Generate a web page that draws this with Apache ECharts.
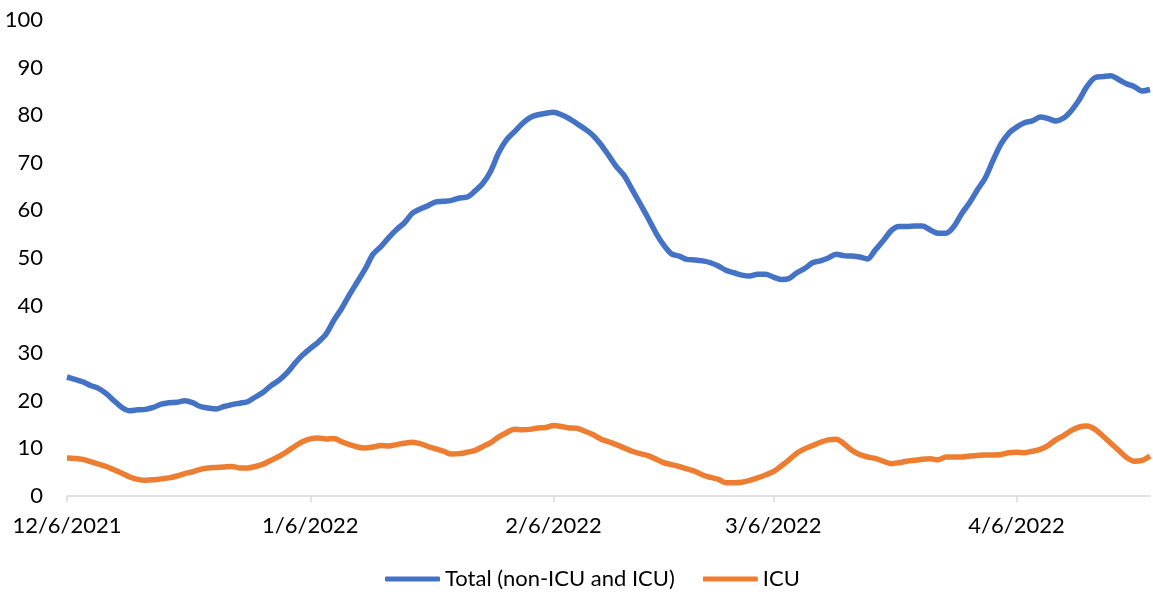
<!DOCTYPE html>
<html>
<head>
<meta charset="utf-8">
<title>Hospitalizations</title>
<script src="https://cdn.jsdelivr.net/npm/echarts@6/dist/echarts.min.js"></script>
<style>
  html, body { margin: 0; padding: 0; background: #fff; }
  #chart { width: 1153px; height: 592px; }
</style>
</head>
<body>
<div id="chart"></div>
<script>
  // daily values, 12/6/2021 .. 4/23/2022
  const startDate = [2021, 12, 6];
  const tickLabels = ['12/6/2021', '1/6/2022', '2/6/2022', '3/6/2022', '4/6/2022'];
  const seriesNames = ['Total (non-ICU and ICU)', 'ICU'];

  const totalValues = [
    25.0, 24.5, 24.0, 23.2, 22.6, 21.5, 20.0, 18.6, 17.9, 18.1,
    18.2, 18.6, 19.3, 19.6, 19.7, 20.0, 19.6, 18.8, 18.5, 18.3,
    18.8, 19.2, 19.5, 19.8, 20.8, 21.8, 23.2, 24.3, 25.8, 27.8,
    29.6, 31.0, 32.3, 34.0, 36.9, 39.4, 42.3, 45.0, 47.7, 50.8,
    52.4, 54.3, 56.0, 57.4, 59.4, 60.3, 61.0, 61.8, 61.9, 62.1,
    62.6, 62.8, 64.1, 65.7, 68.3, 72.1, 74.8, 76.5, 78.2, 79.5,
    80.1, 80.4, 80.6, 80.1, 79.3, 78.2, 77.1, 75.8, 73.9, 71.6,
    69.2, 67.3, 64.4, 61.5, 58.5, 55.4, 52.8, 50.9, 50.4, 49.7,
    49.6, 49.4, 49.0, 48.3, 47.4, 46.9, 46.4, 46.2, 46.6, 46.6,
    46.0, 45.5, 45.7, 46.9, 47.8, 49.0, 49.4, 50.0, 50.8, 50.5,
    50.4, 50.2, 49.8, 51.7, 53.6, 55.7, 56.6, 56.6, 56.7, 56.7,
    55.9, 55.2, 55.2, 56.6, 59.3, 61.6, 64.3, 66.8, 70.5, 73.9,
    76.2, 77.5, 78.4, 78.8, 79.6, 79.3, 78.8, 79.4, 81.0, 83.3,
    86.1, 87.9, 88.1, 88.3, 87.5, 86.6, 86.0, 85.1, 85.4
  ];

  const icuValues = [
    8.0, 7.9, 7.7, 7.2, 6.7, 6.2, 5.5, 4.8, 4.0, 3.5,
    3.3, 3.4, 3.6, 3.8, 4.2, 4.7, 5.1, 5.6, 5.9, 6.0,
    6.1, 6.2, 5.9, 5.9, 6.2, 6.7, 7.5, 8.3, 9.3, 10.4,
    11.4, 12.0, 12.2, 12.0, 12.1, 11.4, 10.8, 10.3, 10.1, 10.3,
    10.6, 10.5, 10.8, 11.1, 11.3, 11.0, 10.4, 9.9, 9.4, 8.8,
    8.9, 9.2, 9.6, 10.4, 11.2, 12.4, 13.3, 14.0, 13.9, 14.0,
    14.3, 14.4, 14.8, 14.6, 14.3, 14.2, 13.6, 12.9, 12.0, 11.4,
    10.8, 10.1, 9.4, 8.9, 8.5, 7.8, 7.0, 6.6, 6.2, 5.7,
    5.2, 4.4, 3.9, 3.5, 2.8, 2.8, 2.9, 3.3, 3.8, 4.4,
    5.1, 6.3, 7.6, 9.0, 9.9, 10.6, 11.3, 11.8, 11.9, 11.0,
    9.6, 8.7, 8.2, 7.9, 7.3, 6.8, 7.0, 7.3, 7.5, 7.7,
    7.8, 7.6, 8.2, 8.2, 8.2, 8.4, 8.5, 8.6, 8.6, 8.7,
    9.1, 9.2, 9.1, 9.4, 9.8, 10.6, 11.8, 12.7, 13.8, 14.5,
    14.7, 14.0, 12.6, 11.1, 9.6, 8.1, 7.3, 7.5, 8.4
  ];

  // category labels m/d/yyyy, one per day
  let categories = [];
  let d = new Date(startDate[0], startDate[1] - 1, startDate[2]);
  for (let i = 0; i < totalValues.length; i++) {
    categories.push((d.getMonth() + 1) + '/' + d.getDate() + '/' + d.getFullYear());
    d.setDate(d.getDate() + 1);
  }

  const font = 'Lato, "Open Sans", sans-serif';
  const showTick = function (index, value) {
    return tickLabels.indexOf(value) >= 0;
  };

  let chart = echarts.init(document.getElementById('chart'));
  chart.setOption({
    animation: false,
    textStyle: { fontFamily: font },
    grid: { left: 67, right: 3, top: 20, bottom: 96, containLabel: false },
    legend: {
      bottom: 2,
      left: 385,
      padding: 0,
      icon: 'roundRect',
      itemWidth: 55,
      itemHeight: 5,
      itemGap: 28,
      textStyle: { fontFamily: font, fontSize: 22, color: '#000' },
      data: seriesNames
    },
    xAxis: {
      type: 'category',
      boundaryGap: false,
      data: categories,
      axisLine: { lineStyle: { color: '#d9d9d9', width: 1.5 } },
      axisTick: { show: true, interval: showTick, length: 6, lineStyle: { color: '#d9d9d9', width: 1.5 } },
      axisLabel: { interval: showTick, fontSize: 22, color: '#000', margin: 19, fontFamily: font }
    },
    yAxis: {
      type: 'value',
      min: 0,
      max: 100,
      interval: 10,
      axisLine: { show: false },
      axisTick: { show: false },
      splitLine: { show: false },
      axisLabel: { fontSize: 22, color: '#000', margin: 24, fontFamily: font }
    },
    series: [
      {
        name: seriesNames[0],
        type: 'line',
        data: totalValues,
        smooth: 0.3,
        showSymbol: false,
        color: '#4472C4',
        lineStyle: { width: 5.5, color: '#4472C4' }
      },
      {
        name: seriesNames[1],
        type: 'line',
        data: icuValues,
        smooth: 0.3,
        showSymbol: false,
        color: '#ED7D31',
        lineStyle: { width: 5.5, color: '#ED7D31' }
      }
    ]
  });
</script>
</body>
</html>
